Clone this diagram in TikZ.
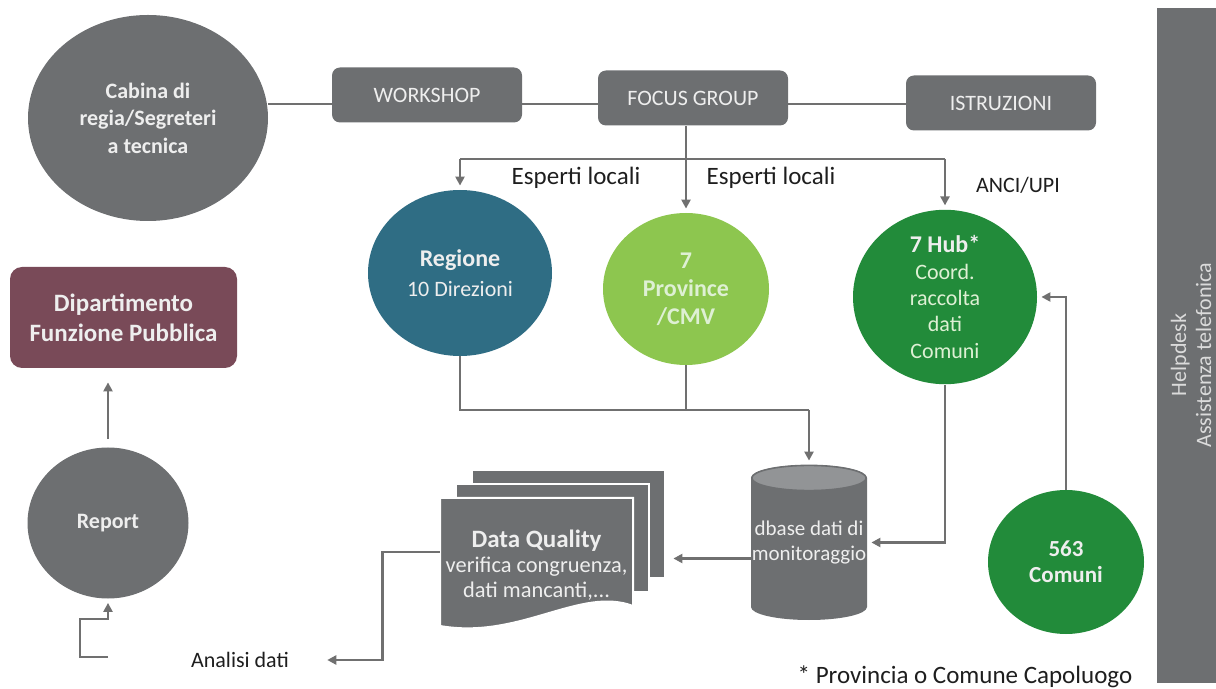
\documentclass[tikz,border=0pt]{standalone}
\usepackage{fontspec}
\setmainfont{Carlito}
\usetikzlibrary{shapes.geometric,arrows.meta}

\begin{document}
\begin{tikzpicture}[x=0.5pt,y=-0.5pt,
  topbox/.style={fill=g1,rounded corners=4pt,minimum width=95pt,
    minimum height=27.5pt,inner sep=0pt,text=tw,
    font=\fontsize{11}{13}\selectfont},
  blob/.style={ellipse,inner sep=0pt,align=center,text=tw,
    font=\fontsize{11}{13.5}\selectfont},
  lbl/.style={text=tk,inner sep=2pt,font=\fontsize{11}{13}\selectfont},
  flow/.style={draw=gl,line width=1.2pt},
  arr/.style={flow,shorten >=2pt,-{Triangle[length=4.5pt,width=4.5pt]}},
  sheet/.style={fill=g1,draw=white,line width=1pt}]
 \definecolor{g1}{RGB}{109,111,113}
 \definecolor{g2}{RGB}{146,148,150}
 \definecolor{gl}{RGB}{112,112,112}
 \definecolor{tw}{RGB}{238,238,238}
 \definecolor{tk}{RGB}{30,30,30}
 \definecolor{tg}{RGB}{222,240,212}
 \definecolor{c1}{RGB}{47,109,132}
 \definecolor{c2}{RGB}{141,198,79}
 \definecolor{c3}{RGB}{34,139,58}
 \definecolor{c4}{RGB}{121,74,88}
 \useasboundingbox (0,0) rectangle (1216,689);

 \node[blob,fill=g1,minimum width=120pt,minimum height=103pt,
   font=\bfseries\fontsize{11}{13.75}\selectfont]
   (cab) at (148,118) {Cabina di\\regia/Segreteri\\a tecnica};
 \foreach \nm/\xp/\yp/\txt in {
   ws/427/95/WORKSHOP, fg/693/98/FOCUS GROUP, istr/1001/103/ISTRUZIONI
 } {
   \node[topbox] (\nm) at (\xp,\yp) {\txt};
 }
 \coordinate (bus) at (0,104);
 \draw[flow] (cab.east |- bus) -- (ws.west |- bus);
 \draw[flow] (ws.east |- bus) -- (fg.west |- bus);
 \draw[flow] (fg.east |- bus) -- (istr.west |- bus);

 \node[blob,fill=c1,minimum width=92pt,minimum height=83pt,
   font=\fontsize{11}{15}\selectfont] (reg) at (460,273)
   {\textbf{\fontsize{12}{15}\selectfont Regione}\\10 Direzioni};
 \node[blob,fill=c2,minimum width=83pt,minimum height=76pt,text=tg,
   font=\bfseries\fontsize{12}{14}\selectfont] (prov) at (686,289)
   {7\\Province\\/CMV};
 \node[blob,fill=c3,minimum width=92pt,minimum height=84pt,text=tg,
   font=\fontsize{11}{13.25}\selectfont] (hub) at (945,297)
   {\textcolor{tw}{\textbf{\fontsize{12}{13.25}\selectfont 7 Hub*}}\\Coord.\\raccolta\\dati\\Comuni};

 \coordinate (split) at (0,159);
 \draw[flow] (fg.south -| prov) -- (prov |- split);
 \draw[flow] (reg |- split) -- (hub |- split);
 \foreach \nm in {reg,prov,hub} {
   \draw[arr] (\nm |- split) -- (\nm.north);
 }
 \node[lbl,font=\fontsize{12.5}{15}\selectfont] (esp1) at (576,178) {Esperti locali};
 \node[lbl,font=\fontsize{12.5}{15}\selectfont] (esp2) at (771,178) {Esperti locali};
 \node[lbl] (anci) at (1018,185) {ANCI/UPI};

 \coordinate (dbc) at (809,542.5);
 \fill[g1] ([shift={(-58,-64.5)}]dbc) -- ([shift={(-58,64.5)}]dbc)
   arc[start angle=180,end angle=360,x radius=29pt,y radius=6.5pt]
   -- ([shift={(58,-64.5)}]dbc)
   arc[start angle=0,end angle=180,x radius=29pt,y radius=6.5pt] -- cycle;
 \filldraw[fill=g2,draw=g1,line width=.8pt] ([shift={(0,-64.5)}]dbc)
   ellipse[x radius=28.6pt,y radius=6.3pt];
 \node[align=center,minimum width=58pt,minimum height=77.5pt,inner sep=0pt,
   text=tw,font=\fontsize{10.5}{12.5}\selectfont] (db) at (dbc)
   {dbase dati di\\monitoraggio};

 \coordinate (join) at (0,410);
 \draw[flow] (reg.south) -- (reg |- join) -- (db |- join);
 \draw[flow] (prov.south) -- (prov |- join);
 \draw[arr] (db |- join) -- (db.north);
 \draw[arr] (hub.south) |- (db.east);

 \node[blob,fill=c3,minimum width=78pt,minimum height=72pt,
   font=\bfseries\fontsize{11.5}{13}\selectfont] (com) at (1066,562)
   {563\\Comuni};
 \draw[arr] (com.north) |- (hub.east);

 \coordinate (dqc) at (536.5,565);
 \foreach \k in {2,1} {
   \filldraw[sheet] ([shift={(-96.5+\k*16,-67-\k*14)}]dqc)
     rectangle ([shift={(96.5+\k*16,41-\k*14)}]dqc);
 }
 \filldraw[sheet] ([shift={(-96.5,-67)}]dqc) -- ([shift={(96.5,-67)}]dqc)
   -- ([shift={(96.5,41)}]dqc)
   .. controls ([shift={(43.5,21)}]dqc) and ([shift={(-16.5,75)}]dqc)
   .. ([shift={(-96.5,61)}]dqc) -- cycle;
 \node[align=center,minimum width=96.5pt,minimum height=67pt,inner sep=0pt,
   text=tw,font=\fontsize{11.2}{12.5}\selectfont] (dq) at (dqc)
   {\textbf{\fontsize{12.5}{15}\selectfont Data Quality}\\verifica congruenza,\\dati mancanti,...};
 \coordinate (dqback) at ([xshift=16pt]dq.east);
 \draw[arr,shorten >=4pt] ([yshift=-8pt]db.west) -- ([yshift=-8pt]db.west -| dqback);

 \node[lbl] (ana) at (240,660) {Analisi dati};
 \draw[arr] ([yshift=6.5pt]dq.west) -- ++(-57,0) |- ([xshift=15pt]ana.east);

 \node[fill=c4,rounded corners=6pt,minimum width=113.5pt,minimum height=50.5pt,
   align=center,text=tw,font=\bfseries\fontsize{12.5}{15}\selectfont]
   (dip) at (123.5,317.5) {Dipartimento\\Funzione Pubblica};
 \node[blob,fill=g1,minimum width=80.5pt,minimum height=75.5pt,
   font=\bfseries\fontsize{11}{13}\selectfont] (rep) at (108,523) {Report};
 \draw[arr,shorten <=4pt,shorten >=7pt] (rep.north) -- (rep.north |- dip.south);
 \coordinate (loop) at ([yshift=-29pt]rep.south);
 \draw[arr] (loop) -- ++(-28,0) |- ([yshift=-10pt]rep.south) -- (rep.south);

 \node[fill=g1,minimum width=29.5pt,minimum height=337.5pt,inner sep=0pt]
   (hd) at (1186.5,345.5) {};
 \node[rotate=90,align=center,inner sep=0pt,text=tw!85!g1,
   font=\fontsize{11}{12.5}\selectfont] (hdtxt) at (1191,355)
   {Helpdesk\\Assistenza telefonica};
 \node[lbl,font=\fontsize{12.5}{15}\selectfont] (note) at (965,677)
   {* Provincia o Comune Capoluogo};
\end{tikzpicture}
\end{document}
